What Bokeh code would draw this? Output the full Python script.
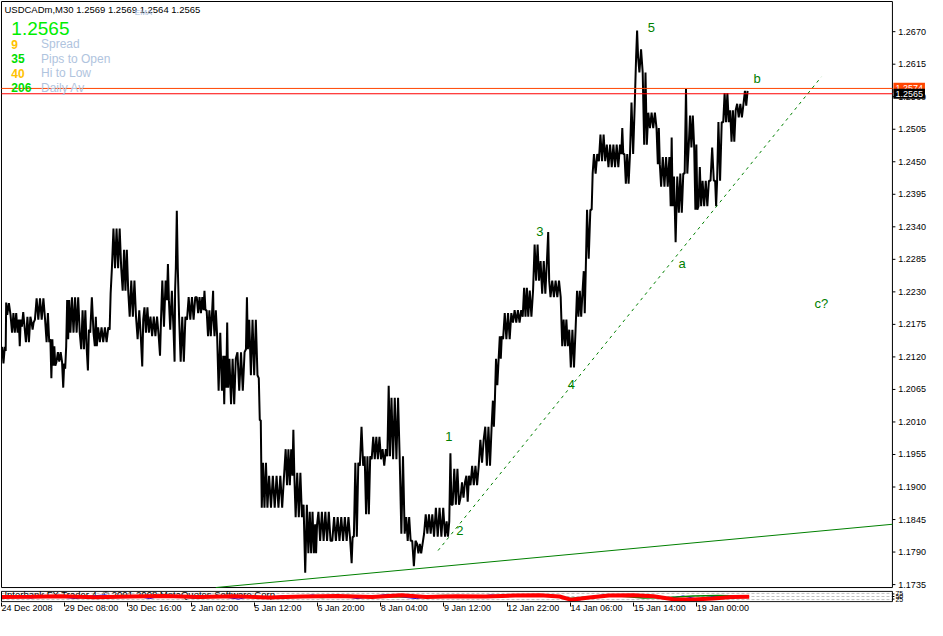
from bokeh.plotting import figure
from bokeh.models import Range1d, FixedTicker, Label
from bokeh.layouts import column
from bokeh.core.properties import value
from bokeh.embed import file_html
from bokeh.resources import INLINE

# ---------------- data ----------------
# price bars grouped in runs: start bar index of each run, final end bar
seg_start = [0, 4, 5, 10, 17, 20, 24, 30, 33, 45, 49, 52, 55, 62, 64, 66, 69, 80, 87, 89,
             94, 97, 109, 111, 122, 129, 137, 142, 144, 150, 160, 162, 167, 170, 175, 176, 179, 187, 197, 204,
             207, 214, 215, 219, 224, 227, 230, 238, 247, 250, 260, 262, 264, 270, 287, 294, 297, 305, 310, 317,
             320, 334, 354, 356, 362, 367, 374, 385, 390, 394, 404, 409, 415, 420, 427, 437, 450, 454, 456, 464,
             470, 474, 484, 489, 497, 500, 504, 507, 517, 527, 534, 539, 545, 553, 555, 567, 574, 582, 589, 592,
             597, 599, 604, 612, 627, 630, 637, 642, 645, 650, 654, 664, 667, 677, 680, 685, 691, 695, 702, 705,
             709, 717, 722, 725, 730, 737, 744, 752]
seg_last_end = 756
seg_high = [1.2137, 1.2212, 1.2211, 1.2194, 1.2183, 1.2196, 1.2188, 1.2178, 1.2219, 1.2194,
            1.2150, 1.2138, 1.2128, 1.2109, 1.2138, 1.2216, 1.2221, 1.2199, 1.2166, 1.2221,
            1.2188, 1.2170, 1.2227, 1.2337, 1.2301, 1.2249, 1.2199, 1.2183, 1.2204, 1.2188,
            1.2183, 1.2249, 1.2277, 1.2232, 1.2232, 1.2367, 1.2188, 1.2221, 1.2221, 1.2232,
            1.2199, 1.2232, 1.2199, 1.2161, 1.2122, 1.2178, 1.2117, 1.2128, 1.2221, 1.2183,
            1.2084, 1.2013, 1.1941, 1.1919, 1.1964, 1.1997, 1.1924, 1.1870, 1.1858, 1.1837,
            1.1858, 1.1849, 1.1816, 1.1941, 1.2002, 1.1952, 1.1985, 1.1964, 1.2071, 1.2051,
            1.1952, 1.1849, 1.1809, 1.1804, 1.1854, 1.1865, 1.1842, 1.1957, 1.1931, 1.1908,
            1.1919, 1.1936, 1.1980, 1.2002, 1.2046, 1.2117, 1.2155, 1.2194, 1.2199, 1.2237,
            1.2232, 1.2310, 1.2282, 1.2331, 1.2249, 1.2183, 1.2166, 1.2232, 1.2265, 1.2369,
            1.2430, 1.2463, 1.2496, 1.2479, 1.2507, 1.2463, 1.2550, 1.2672, 1.2640, 1.2601,
            1.2533, 1.2507, 1.2458, 1.2491, 1.2425, 1.2430, 1.2573, 1.2528, 1.2479, 1.2441,
            1.2418, 1.2474, 1.2418, 1.2517, 1.2566, 1.2537, 1.2548, 1.2570]
seg_low = [1.2109, 1.2130, 1.2191, 1.2161, 1.2138, 1.2171, 1.2145, 1.2166, 1.2183, 1.2145,
           1.2084, 1.2105, 1.2112, 1.2068, 1.2100, 1.2150, 1.2161, 1.2133, 1.2097, 1.2161,
           1.2138, 1.2145, 1.2166, 1.2270, 1.2232, 1.2188, 1.2150, 1.2104, 1.2161, 1.2155,
           1.2122, 1.2171, 1.2216, 1.2166, 1.2112, 1.2270, 1.2112, 1.2183, 1.2194, 1.2199,
           1.2155, 1.2183, 1.2155, 1.2063, 1.2040, 1.2068, 1.2040, 1.2063, 1.2133, 1.2089,
           1.2013, 1.1865, 1.1865, 1.1865, 1.1903, 1.1919, 1.1849, 1.1755, 1.1788, 1.1788,
           1.1809, 1.1809, 1.1771, 1.1816, 1.1936, 1.1854, 1.1947, 1.1936, 1.1952, 1.1947,
           1.1821, 1.1809, 1.1766, 1.1788, 1.1821, 1.1816, 1.1816, 1.1870, 1.1870, 1.1882,
           1.1875, 1.1903, 1.1941, 1.1936, 1.2002, 1.2072, 1.2117, 1.2150, 1.2178, 1.2188,
           1.2188, 1.2249, 1.2227, 1.2249, 1.2221, 1.2138, 1.2102, 1.2188, 1.2194, 1.2286,
           1.2369, 1.2430, 1.2451, 1.2441, 1.2463, 1.2413, 1.2463, 1.2627, 1.2601, 1.2479,
           1.2507, 1.2446, 1.2408, 1.2375, 1.2314, 1.2364, 1.2430, 1.2474, 1.2369, 1.2375,
           1.2375, 1.2418, 1.2375, 1.2418, 1.2517, 1.2484, 1.2525, 1.2545]

price_ticks = [1.1735, 1.1790, 1.1845, 1.1900, 1.1955, 1.2010, 1.2065, 1.2120, 1.2175,
               1.2230, 1.2285, 1.2340, 1.2395, 1.2450, 1.2505, 1.2560, 1.2615, 1.2670]
date_ticks = [0, 64, 128, 192, 256, 320, 384, 448, 512, 576, 640, 704]
date_labels = ["24 Dec 2008", "29 Dec 08:00", "30 Dec 16:00", "2 Jan 02:00", "5 Jan 12:00",
               "6 Jan 20:00", "8 Jan 04:00", "9 Jan 12:00", "12 Jan 22:00", "14 Jan 06:00",
               "15 Jan 14:00", "19 Jan 00:00"]

ask_price = 1.2574
bid_price = 1.2565

trend_dash_x = [442, 830]
trend_dash_y = [1.17926, 1.25935]
trend_solid_x = [217, 902]
trend_solid_y = [1.1730, 1.1837]

wave_text = ["5", "b", "3", "a", "c?", "4", "1", "2"]
wave_x = [658, 765, 545, 689, 830, 577, 453, 464]
wave_y = [1.26766, 1.25910, 1.23325, 1.22782, 1.22107, 1.20741, 1.19851, 1.18271]

header_text = "USDCADm,M30  1.2569 1.2569 1.2564 1.2565"
big_price = "1.2565"
info_numbers = ["9", "35", "40", "206"]
info_names = ["Spread", "Pips to Open", "Hi to Low", "Daily Av"]

ind_red_x = [0, 30, 60, 95, 130, 165, 200, 235, 270, 305, 340, 375, 405, 430, 460,
             490, 520, 545, 565, 577, 595, 615, 640, 660, 680, 700, 720, 740, 757]
ind_red_y = [45, 48, 52, 42, 50, 55, 45, 52, 40, 50, 55, 45, 62, 45, 52,
             50, 60, 63, 50, 18, 40, 60, 63, 52, 24, 20, 30, 45, 48]
ind_blue_x = [0, 15, 30, 45, 60, 75, 90, 105, 120, 135, 150, 165, 180, 195, 210, 225, 240,
              255, 270, 285, 300, 315, 330, 345, 360, 375, 390, 405, 420, 435, 450, 465, 480,
              495, 510, 525, 540, 555, 570, 585, 600, 615, 630, 645, 660, 675, 690, 705, 720,
              735, 750]
ind_blue_y = [40, 55, 35, 60, 45, 30, 55, 65, 40, 55, 30, 60, 50, 35, 60, 45, 25,
              55, 35, 60, 45, 65, 40, 55, 30, 50, 70, 45, 30, 55, 40, 60, 45,
              65, 55, 70, 50, 65, 30, 15, 55, 70, 50, 65, 45, 30, 55, 25, 50,
              60, 50]
ind_green_x = [0, 25, 50, 75, 100, 125, 150, 175, 200, 225, 250, 275, 300, 325, 350, 375,
               400, 425, 450, 475, 500, 525, 550, 575, 600, 625, 650, 675, 700, 725, 750]
ind_green_y = [50, 45, 55, 40, 50, 60, 45, 50, 35, 55, 50, 45, 55, 40, 60, 50,
               45, 55, 60, 50, 45, 60, 65, 30, 50, 55, 35, 40, 55, 60, 55]
ind_levels = [20, 50, 80]
ind_ticks = [25, 50, 75]

# ---------------- layout constants ----------------
FONT = "Liberation Sans"
GREEN = "#008000"
W, H_MAIN, H_SUB = 927, 590, 30
BARS_LAST = 902            # right edge of the chart window (in bars)
X_RANGE = Range1d(-1, 937.5)
Y_LO, Y_HI = 1.1730, 1.2721
PAD_TOP, PAD_BOTTOM = 0.00017, 0.0005

# ---------------- main chart ----------------
p = figure(width=W, height=H_MAIN, x_range=X_RANGE,
           y_range=Range1d(Y_LO - PAD_BOTTOM, Y_HI + PAD_TOP),
           x_axis_location=None, y_axis_location=None, toolbar_location=None,
           output_backend="svg", min_border_left=0, min_border_right=0,
           min_border_top=0, min_border_bottom=0)
p.grid.visible = False
p.outline_line_color = None
p.background_fill_color = "white"
p.border_fill_color = "white"

# chart window frame
p.quad(left=[0], right=[BARS_LAST], bottom=[Y_LO], top=[Y_HI],
       fill_color=None, line_color="black", line_width=1)

# price scale (tick marks and labels to the right of the window)
p.segment(x0=[BARS_LAST] * len(price_ticks), x1=[BARS_LAST + 3] * len(price_ticks),
          y0=price_ticks, y1=price_ticks, line_color="black", line_width=1)
p.text(x=[BARS_LAST + 6] * len(price_ticks), y=price_ticks,
       text=["%.4f" % t for t in price_ticks], text_font=value(FONT),
       text_font_size=value("9px"), text_color="black",
       text_align="left", text_baseline="middle")

# price path: each run of bars is drawn as a dense up/down stroke between its low and high
seg_end = seg_start[1:] + [seg_last_end]
px, py = [], []
n_seg = len(seg_start)
for i in range(n_seg):
    x0, x1, hi, lo = seg_start[i], seg_end[i], seg_high[i], seg_low[i]
    mid_next = (seg_high[i + 1] + seg_low[i + 1]) / 2 if i + 1 < n_seg else hi
    end_high = mid_next >= (hi + lo) / 2
    width = max(x1 - x0, 1)
    n = max(2, int(round(width / 2.0)) + 1)
    for k in range(n):
        from_end = n - 1 - k
        at_high = end_high if from_end % 2 == 0 else (not end_high)
        px.append(x0 + width * (k + 0.5) / n)
        py.append(hi if at_high else lo)
p.line(px, py, line_color="black", line_width=2.0)

# ask / bid lines
p.segment(x0=[0], x1=[BARS_LAST], y0=[ask_price], y1=[ask_price], line_color="#FF4500", line_width=1)
p.segment(x0=[0], x1=[BARS_LAST], y0=[bid_price], y1=[bid_price], line_color="#FF0000", line_width=1)

p.line(trend_dash_x, trend_dash_y, line_color=GREEN, line_width=1, line_dash="3 4")
p.line(trend_solid_x, trend_solid_y, line_color=GREEN, line_width=1)

for t, x, y in zip(wave_text, wave_x, wave_y):
    p.add_layout(Label(x=x, y=y, text=t, text_color=GREEN, text_font=FONT,
                       text_font_size="13px", text_align="center", text_baseline="middle"))

# header texts
p.add_layout(Label(x=3, y=1.2708, text=header_text, text_font=FONT, text_font_size="9.5px",
                   text_color="black", text_baseline="middle"))
p.add_layout(Label(x=135, y=1.2703, text="EMA", text_font=FONT, text_font_size="8px",
                   text_color="#A9BBD9", text_baseline="middle"))
p.add_layout(Label(x=10, y=1.2676, text=big_price, text_font=FONT, text_font_size="19px",
                   text_color="#00EE00", text_baseline="middle"))
row_y = [1.26491, 1.26244, 1.25997, 1.25750]
num_colors = ["#FFC200", "#00DD00", "#FFC200", "#00DD00"]
for n, name, y, c in zip(info_numbers, info_names, row_y, num_colors):
    p.add_layout(Label(x=10, y=y, text=n, text_font=FONT, text_font_size="12px",
                       text_font_style="bold", text_color=c, text_baseline="middle"))
    p.add_layout(Label(x=40, y=y, text=name, text_font=FONT, text_font_size="12px",
                       text_color="#B0C4DE", text_baseline="middle"))

# ask / bid price boxes on the price scale
for price, bg, dy in [(ask_price, "#FF4500", 0.0001), (bid_price, "black", 0.0)]:
    lab = Label(x=BARS_LAST + 1, y=price + dy, text="%.4f" % price, text_font=FONT,
                text_font_size="9px", text_color="white", background_fill_color=bg,
                text_baseline="middle", text_align="left")
    if hasattr(lab, "padding"):
        lab.padding = 2
    p.add_layout(lab)

# ---------------- indicator sub-window ----------------
s = figure(width=W, height=H_SUB, x_range=X_RANGE, y_range=Range1d(-8, 108),
           y_axis_location=None, toolbar_location=None, output_backend="svg",
           min_border_left=0, min_border_right=0, min_border_top=0, min_border_bottom=0)
s.grid.visible = False
s.outline_line_color = None
s.background_fill_color = "white"
s.border_fill_color = "white"

xa = s.xaxis[0]
xa.ticker = FixedTicker(ticks=date_ticks)
xa.major_label_overrides = {t: l for t, l in zip(date_ticks, date_labels)}
xa.major_label_orientation = -0.0001
xa.major_tick_out = 4
xa.major_tick_in = 0
xa.minor_tick_line_color = None
xa.major_label_standoff = 1
xa.major_label_text_font = FONT
xa.major_label_text_font_size = "9px"
xa.major_label_text_color = "black"
xa.axis_line_color = None

s.segment(x0=[0] * len(ind_levels), x1=[BARS_LAST] * len(ind_levels), y0=ind_levels, y1=ind_levels,
          line_color="#C0C0C0", line_width=1, line_dash="3 2")

s.text(x=[3], y=[72], text=["Interbank FX Trader 4, \u00a9 2001-2008 MetaQuotes Software Corp."],
       text_font=value(FONT), text_font_size=value("9.5px"), text_color="black",
       text_baseline="middle", text_align="left")

s.line(ind_blue_x, ind_blue_y, line_color="#0000FF", line_width=1)
s.line(ind_green_x, ind_green_y, line_color=GREEN, line_width=1.5)
s.line(ind_red_x, ind_red_y, line_color="#FF0000", line_width=4)

s.quad(left=[0], right=[BARS_LAST], bottom=[0], top=[100],
       fill_color=None, line_color="black", line_width=1)
s.segment(x0=[BARS_LAST] * len(ind_ticks), x1=[BARS_LAST + 2] * len(ind_ticks),
          y0=ind_ticks, y1=ind_ticks, line_color="black")
s.text(x=[BARS_LAST + 3] * len(ind_ticks), y=ind_ticks, text=[str(t) for t in ind_ticks],
       text_font=value(FONT), text_font_size=value("7px"), text_color="black",
       text_align="left", text_baseline="middle")

layout = column(p, s, spacing=0)
open("out.html", "w").write(file_html(layout, INLINE))
